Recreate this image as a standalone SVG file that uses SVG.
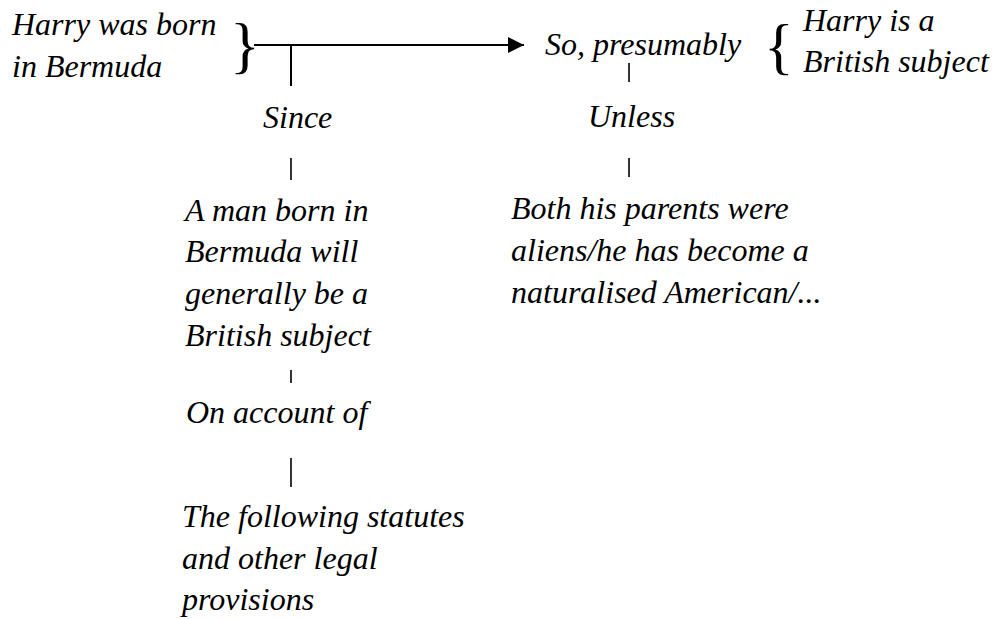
<svg xmlns="http://www.w3.org/2000/svg" width="998" height="619" viewBox="0 0 998 619">
  <style>
    .t { font-family: "Liberation Serif", "Times New Roman", serif; font-style: italic; font-size: 32px; fill: #000; }
    .brace { font-family: "Liberation Serif", "Times New Roman", serif; font-size: 62px; fill: #000; }
    .ln { stroke: #000; stroke-width: 2; fill: none; }
    .tick { stroke: #000; stroke-width: 1.6; fill: none; }
  </style>
  <defs>
    <marker id="arrow" viewBox="0 0 10 10" refX="10" refY="5" markerWidth="16" markerHeight="16" markerUnits="userSpaceOnUse" orient="auto">
      <path d="M0,0 L10,5 L0,10 z" fill="#000"/>
    </marker>
  </defs>
  <rect width="998" height="619" fill="#fff"/>

  <g id="connectors">
    <line class="ln" x1="254" y1="45" x2="524" y2="45" marker-end="url(#arrow)"/>
    <line class="ln" x1="291" y1="45" x2="291" y2="86"/>
    <line class="tick" x1="629" y1="63" x2="629" y2="82"/>
    <line class="tick" x1="291" y1="158" x2="291" y2="180"/>
    <line class="tick" x1="629" y1="158" x2="629" y2="177"/>
    <line class="tick" x1="291" y1="370" x2="291" y2="383"/>
    <line class="tick" x1="291" y1="458" x2="291" y2="487"/>
  </g>

  <g id="datum">
    <text class="t" x="12" y="35">Harry was born</text>
    <text class="t" x="12" y="77">in Bermuda</text>
    <text class="brace" x="230" y="66">}</text>
  </g>

  <g id="qualifier">
    <text class="t" x="545" y="55">So, presumably</text>
  </g>

  <g id="claim">
    <text class="brace" x="764" y="67">{</text>
    <text class="t" x="803" y="31">Harry is a</text>
    <text class="t" x="803" y="72">British subject</text>
  </g>

  <g id="since">
    <text class="t" x="263" y="128">Since</text>
  </g>

  <g id="warrant">
    <text class="t" x="185" y="221">A man born in</text>
    <text class="t" x="185" y="262">Bermuda will</text>
    <text class="t" x="185" y="304">generally be a</text>
    <text class="t" x="185" y="346">British subject</text>
  </g>

  <g id="on-account-of">
    <text class="t" x="186" y="423">On account of</text>
  </g>

  <g id="backing">
    <text class="t" x="182" y="527">The following statutes</text>
    <text class="t" x="182" y="569">and other legal</text>
    <text class="t" x="182" y="610">provisions</text>
  </g>

  <g id="unless">
    <text class="t" x="588" y="127">Unless</text>
  </g>

  <g id="rebuttal">
    <text class="t" x="511" y="219">Both his parents were</text>
    <text class="t" x="511" y="261">aliens/he has become a</text>
    <text class="t" x="511" y="303">naturalised American/...</text>
  </g>
</svg>
